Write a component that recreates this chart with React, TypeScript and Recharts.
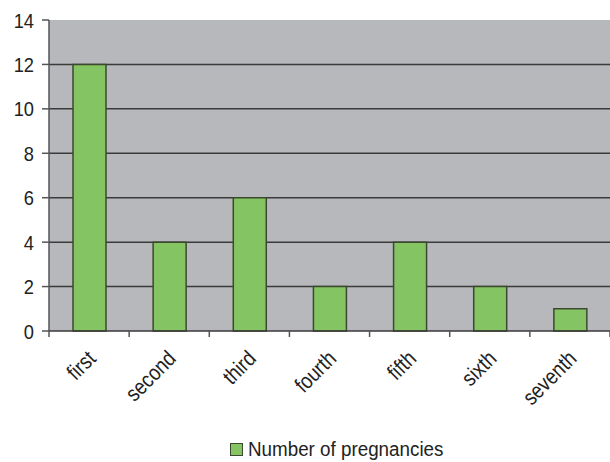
import React from "react";
import { BarChart, Bar, XAxis, YAxis, CartesianGrid, Legend } from "recharts";

const categories = ["first", "second", "third", "fourth", "fifth", "sixth", "seventh"];
const pregnancies = [12, 4, 6, 2, 4, 2, 1];
const yTicks = [0, 2, 4, 6, 8, 10, 12, 14];

const data = categories.map((name, i) => ({ name, value: pregnancies[i] }));

const FONT = "'Liberation Sans', Arial, sans-serif";
const BAND = 561 / categories.length;

// x labels: rotated, slightly condensed to mimic a narrow face
function XTick(props: any) {
  const { x, y, payload, index } = props;
  const left = x - BAND / 2;
  const ax = x + 8;
  const ay = y + 21;
  return (
    <g>
      <line x1={left} y1={y - 9} x2={left} y2={y - 2} stroke="#555" strokeWidth={1.5} />
      {index === categories.length - 1 && (
        <line x1={x + BAND / 2} y1={y - 9} x2={x + BAND / 2} y2={y - 2} stroke="#555" strokeWidth={1.5} />
      )}
      <text
        x={0}
        y={0}
        transform={`translate(${ax}, ${ay}) rotate(-45) scale(0.85, 1)`}
        textAnchor="end"
        fontFamily={FONT}
        fontSize={22}
        fill="#222"
      >
        {payload.value}
      </text>
    </g>
  );
}

function YTick(props: any) {
  const { x, y, payload } = props;
  return (
    <text
      x={0}
      y={0}
      transform={`translate(${x}, ${y}) scale(0.87, 1)`}
      dy="0.36em"
      textAnchor="end"
      fontFamily={FONT}
      fontSize={21}
      fill="#222"
    >
      {payload.value}
    </text>
  );
}

function LegendBox() {
  return (
    <div
      style={{
        height: 40,
        paddingTop: 17,
        boxSizing: "border-box",
        display: "flex",
        justifyContent: "flex-start",
        paddingLeft: 230,
        fontFamily: FONT,
        fontSize: 20,
        color: "#222",
        lineHeight: "20px",
      }}
    >
      <span
        style={{
          display: "inline-block",
          width: 11,
          height: 11,
          background: "#84c462",
          border: "1px solid #3b4a2f",
          marginTop: 4,
          marginRight: 5,
        }}
      />
      <span style={{ display: "inline-block", transform: "scaleX(0.94)", transformOrigin: "left center" }}>
        Number of pregnancies
      </span>
    </div>
  );
}

export default function App() {
  return (
    <div style={{ position: "fixed", left: 0, top: 0, width: 610, height: 462, background: "#fff" }}>
      <BarChart width={610} height={462} data={data} margin={{ top: 20, right: 0, left: 0, bottom: 0 }}>
        <CartesianGrid
          vertical={false}
          horizontalValues={[2, 4, 6, 8, 10, 12]}
          fill="#b6b8bb"
          stroke="#3a3a3a"
          strokeWidth={1.5}
        />
        <XAxis
          dataKey="name"
          height={91}
          tickLine={false}
          axisLine={{ stroke: "#3a3a3a", strokeWidth: 1.5 }}
          tick={<XTick />}
          interval={0}
        />
        <YAxis
          width={49}
          domain={[0, 14]}
          ticks={yTicks}
          tickSize={7}
          tickMargin={8}
          axisLine={{ stroke: "#555", strokeWidth: 1.5 }}
          tickLine={{ stroke: "#555", strokeWidth: 1.5 }}
          tick={<YTick />}
        />
        <Legend verticalAlign="bottom" content={<LegendBox />} />
        <Bar
          dataKey="value"
          name="Number of pregnancies"
          fill="#84c462"
          stroke="#3b4a2f"
          strokeWidth={1.5}
          barSize={33}
          isAnimationActive={false}
        />
      </BarChart>
    </div>
  );
}
